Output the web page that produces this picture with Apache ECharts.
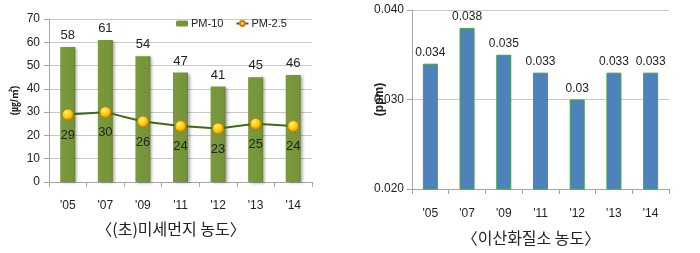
<!DOCTYPE html>
<html><head><meta charset="utf-8">
<script src="https://cdn.jsdelivr.net/npm/echarts@6/dist/echarts.min.js"></script>
<style>html,body{margin:0;padding:0;background:#fff}#c{width:700px;height:253px}</style>
</head><body><div id="c"></div>
<script>
const categories = ["'05", "'07", "'09", "'11", "'12", "'13", "'14"];
const pm10 = [58, 61, 54, 47, 41, 45, 46];
const pm25 = [29, 30, 26, 24, 23, 25, 24];
const no2 = [0.034, 0.038, 0.035, 0.033, 0.03, 0.033, 0.033];
const leftTicks = {min: 0, max: 70, interval: 10};
const rightTicks = {min: 0.02, max: 0.04, interval: 0.01};
const leftTitle = '〈(초)미세먼지 농도〉';
const rightTitle = '〈이산화질소 농도〉';

const FONT = '"Liberation Sans", Arial, "Noto Sans CJK KR", sans-serif';
const KFONT = '"Noto Sans CJK KR", sans-serif';
const chart = echarts.init(document.getElementById('c'), null, {renderer: 'canvas'});
const axisGray = '#A6A6A6';
const gridGray = '#C8C8C8';
const txt = '#222';

chart.setOption({
  animation: false,
  backgroundColor: '#fff',
  title: [
    {text: leftTitle, left: 166, top: 216, textAlign: 'center',
     textStyle: {fontFamily: KFONT, fontSize: 16, fontWeight: 'normal', color: '#222'}},
    {text: rightTitle, left: 526, top: 225, textAlign: 'center',
     textStyle: {fontFamily: KFONT, fontSize: 16, fontWeight: 'normal', color: '#222'}}
  ],
  legend: {
    left: 171, top: 13, itemWidth: 12, itemHeight: 6, itemGap: 12,
    textStyle: {fontFamily: FONT, fontSize: 11, color: txt, padding: [0, 0, 0, -2]},
    data: ['PM-10', 'PM-2.5']
  },
  grid: [
    {left: 49, right: 388, top: 19, bottom: 71},
    {left: 412, right: 31, top: 10, bottom: 64}
  ],
  xAxis: [
    {type: 'category', gridIndex: 0, data: categories,
     axisLine: {lineStyle: {color: axisGray}},
     axisTick: {show: true, length: 5, lineStyle: {color: axisGray}},
     axisLabel: {margin: 18, fontFamily: FONT, fontSize: 12, color: txt}},
    {type: 'category', gridIndex: 1, data: categories,
     axisLine: {lineStyle: {color: axisGray}},
     axisTick: {show: true, length: 5, lineStyle: {color: axisGray}},
     axisLabel: {margin: 19, fontFamily: FONT, fontSize: 12, color: txt}}
  ],
  yAxis: [
    {type: 'value', gridIndex: 0, min: leftTicks.min, max: leftTicks.max, interval: leftTicks.interval,
     name: '(㎍/㎥)', nameLocation: 'middle', nameGap: 29, nameRotate: 90, nameMoveOverlap: false,
     nameTextStyle: {fontFamily: FONT, fontSize: 10, fontWeight: 'bold', color: txt},
     axisLine: {show: true, lineStyle: {color: axisGray}},
     axisTick: {show: true, length: 5, lineStyle: {color: axisGray}},
     splitLine: {lineStyle: {color: gridGray}},
     axisLabel: {margin: 9, fontFamily: FONT, fontSize: 12, color: txt}},
    {type: 'value', gridIndex: 1, min: rightTicks.min, max: rightTicks.max, interval: rightTicks.interval,
     name: '(ppm)', nameLocation: 'middle', nameGap: 26, nameRotate: 90, nameMoveOverlap: false,
     nameTextStyle: {fontFamily: FONT, fontSize: 12, fontWeight: 'bold', color: txt},
     axisLine: {show: true, lineStyle: {color: axisGray}},
     axisTick: {show: true, length: 5, lineStyle: {color: axisGray}},
     splitLine: {lineStyle: {color: gridGray}},
     axisLabel: {margin: 8, fontFamily: FONT, fontSize: 12, color: txt,
                 formatter: v => v.toFixed(3)}}
  ],
  series: [
    {name: 'PM-10', type: 'bar', xAxisIndex: 0, yAxisIndex: 0, data: pm10, barWidth: 15,
     itemStyle: {color: new echarts.graphic.LinearGradient(0, 0, 1, 0, [
        {offset: 0, color: '#7A9A3C'}, {offset: 0.85, color: '#76933A'}, {offset: 1, color: '#6A8532'}]),
       shadowColor: 'rgba(0,0,0,0.35)', shadowBlur: 3, shadowOffsetX: 2, shadowOffsetY: 1},
     label: {show: true, position: 'top', distance: 5, fontFamily: FONT, fontSize: 13, color: txt}},
    {name: 'PM-2.5', type: 'line', xAxisIndex: 0, yAxisIndex: 0, data: pm25,
     lineStyle: {color: '#3F6B17', width: 2},
     symbol: 'circle', symbolSize: 11,
     itemStyle: {color: new echarts.graphic.RadialGradient(0.4, 0.35, 0.7, [
        {offset: 0, color: '#FFF27A'}, {offset: 0.5, color: '#FFD000'}, {offset: 1, color: '#D98A00'}]),
       borderColor: '#C77A1C', borderWidth: 1},
     label: {show: true, position: 'bottom', distance: 8, fontFamily: FONT, fontSize: 13, color: txt},
     z: 5},
    {name: 'NO2', type: 'bar', xAxisIndex: 1, yAxisIndex: 1, data: no2, barWidth: 15,
     itemStyle: {color: '#4F81BD', borderColor: '#3DA345', borderWidth: 1},
     label: {show: true, position: 'top', distance: 5, fontFamily: FONT, fontSize: 12, color: txt}}
  ]
});
</script></body></html>
